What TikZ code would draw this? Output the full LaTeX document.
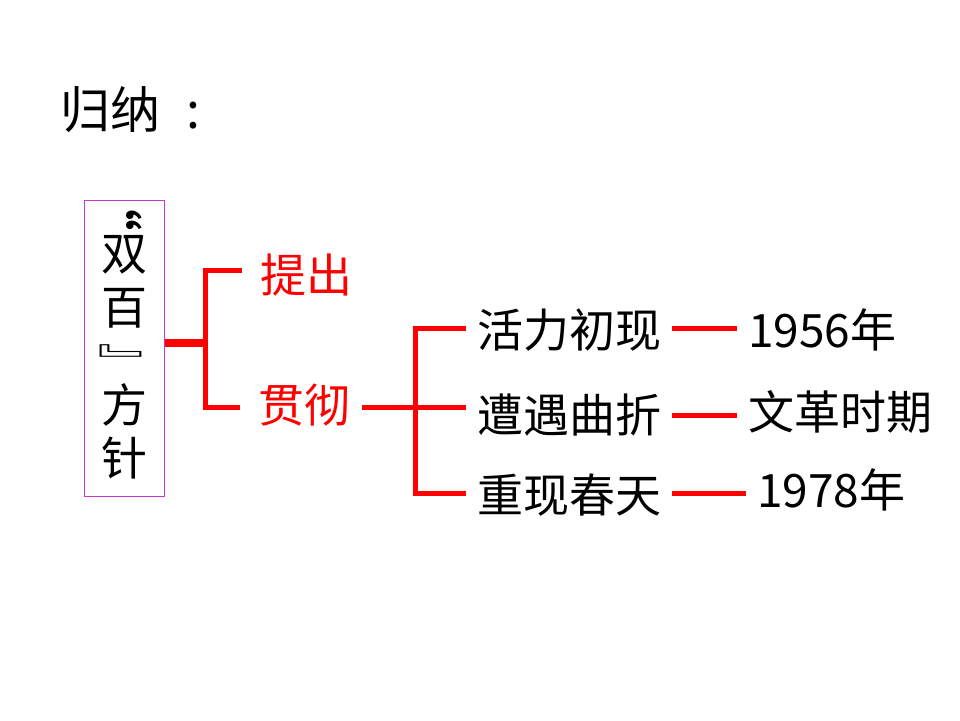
\documentclass[tikz,border=0pt]{standalone}
\usepackage{fontspec}
\setmainfont{Noto Sans CJK SC}
\usetikzlibrary{positioning,calc}
\definecolor{brred}{RGB}{255,0,0}
\definecolor{boxpink}{RGB}{204,51,204}

\begin{document}
\begin{tikzpicture}[x=1pt,y=-1pt,
  t/.style={inner sep=0pt,outer xsep=11pt,anchor=west,font=\fontsize{46}{52}\selectfont},
  r/.style={t,outer xsep=18pt,text=brred},
  br/.style={draw=brred,line width=5pt}]
  \useasboundingbox (0,0) rectangle (960,720);
  \node[t,font=\fontsize{50}{56}\selectfont] (title) at (49,110) {归纳\hspace{26pt}:};
  % vertical title in the box
  \node[draw=boxpink,line width=1pt,inner sep=0pt,anchor=north west,
    minimum width=80pt,minimum height=296pt] (box) at (84,200) {};
  \node[inner sep=0pt,font=\fontsize{48}{48}\selectfont\bfseries] (quote) at (121,206)
    {\rotatebox[origin=c]{-90}{“}};
  \node[inner sep=0pt,font=\fontsize{46}{52}\selectfont] (close) at (121,361)
    {\scalebox{1.37}[0.75]{\rotatebox[origin=c]{-90}{』}}};
  \foreach \y/\c in {255/双,308/百,405/方,458/针}
    \node[inner sep=0pt,font=\fontsize{46}{52}\selectfont] at (124,\y) {\c};
  \node[r] (tichu) at (242,275) {提出};
  \node[r] (guanche) at (240,405) {贯彻};
  \node[t] (h1) at (466,330) {活力初现};
  \node[t] (h2) at (466,415) {遭遇曲折};
  \node[t] (h3) at (466,495) {重现春天};
  \node[t] (d1) at (737,330) {1956年};
  \node[t] (d2) at (737,412) {文革时期};
  \node[t] (d3) at (746,490) {1978年};
  \coordinate (j1) at (205,343);
  \coordinate (j2) at (415,407);
  \draw[br,line width=8pt] (box.east|-j1) -- (j1);
  \draw[br] ($(tichu.west)+(0,-5)$) -| (j1) |- ($(guanche.west)+(0,2)$);
  \draw[br] ($(guanche.east)+(-6,2)$) -- (j2) -- (j2-|h2.west);
  \draw[br] ($(h1.west)+(0,-2)$) -| (j2) |- ($(h3.west)+(0,-2)$);
  \draw[br] ($(h1.east)+(0,-2)$) -- ($(h1.east-|d1.west)+(0,-2)$);
  \draw[br] (h2.east) -- (h2.east-|d2.west);
  \draw[br] ($(h3.east)+(0,-2)$) -- ($(h3.east-|d3.west)+(0,-2)$);
\end{tikzpicture}
\end{document}
